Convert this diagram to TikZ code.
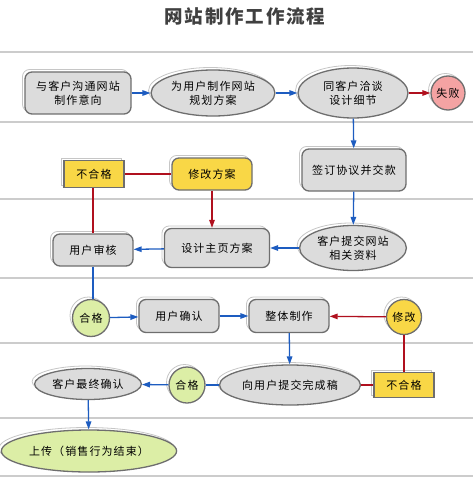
\documentclass[tikz,border=0pt]{standalone}
\usepackage{fontspec}
\newfontfamily\cjk[LetterSpace=10]{Noto Sans CJK SC}
\newfontfamily\cjktitle[LetterSpace=10]{Noto Sans CJK SC}
\usetikzlibrary{shapes.geometric,shadows,arrows.meta}

\definecolor{boxgray}{HTML}{DCDCDC}
\definecolor{edgegray}{HTML}{6E6E6E}
\definecolor{sepgray}{HTML}{CCCCCC}
\definecolor{okgreen}{HTML}{DCEEA6}
\definecolor{warnyellow}{HTML}{F9D746}
\definecolor{failpink}{HTML}{F4A3A3}
\definecolor{flowblue}{HTML}{1D5CC0}
\definecolor{flowred}{HTML}{B0101E}

\begin{document}
\begin{tikzpicture}[x=1pt,y=-1pt,
% Shapes style
    shape3d/.style={draw=edgegray,line width=1.3pt,fill=boxgray,
		align=center,inner sep=2pt,
		copy shadow={shadow xshift=-2.5pt,shadow yshift=2.5pt,
			fill=white,draw=gray!45,line width=0.8pt}},
    box/.style={shape3d,rectangle,rounded corners=7pt},
    oval/.style={shape3d,ellipse},
    dot/.style={shape3d,circle},
    flag/.style={shape3d,rectangle,fill=warnyellow},
% Text style
    every node/.style={font=\cjk\fontsize{11}{14}\selectfont},
    title/.style={font=\cjktitle\bfseries\fontsize{18.5}{22}\selectfont,
		text=black!75},
% Connector style
    go/.style={draw=flowblue,line width=1.3pt,
		-{Triangle[length=8pt,width=5.5pt]}},
    golink/.style={draw=flowblue,line width=1.3pt},
    back/.style={draw=flowred,line width=1.3pt,
		-{Triangle[length=8pt,width=5.5pt]}},
    backlink/.style={draw=flowred,line width=1.3pt},
    sep/.style={draw=sepgray,line width=1.2pt}
    ]
\useasboundingbox (0,0) rectangle (473,484);
%% Title and row separators
    \node (head) [title] at (245,16) {网站制作工作流程};
    \foreach \y in {52,122,199,278,343,418,476}
		\draw [sep] (0,\y) -- (473,\y);
%% Draw steps
    \node (talk) [box,minimum width=106pt,minimum height=42pt]
		at (78,93) {与客户沟通网站\\制作意向};
    \node (plan) [oval,minimum width=108pt,minimum height=46pt]
		at (213,93) {为用户制作网站\\规划方案};
    \node (detail) [oval,minimum width=110pt,minimum height=50pt]
		at (353,93) {同客户洽谈\\设计细节};
    \node (fail) [dot,fill=failpink,minimum size=34pt]
		at (448,93) {失败};
    \node (sign) [box,minimum width=104pt,minimum height=42pt]
		at (354,170) {签订协议并交款};
    \node (nopassa) [flag,minimum width=60pt,minimum height=27pt]
		at (94,174) {不合格};
    \node (revise) [box,fill=warnyellow,minimum width=80pt,
		minimum height=32pt] at (212,174) {修改方案};
    \node (review) [box,minimum width=80pt,minimum height=32pt]
		at (93,250) {用户审核};
    \node (home) [box,minimum width=105pt,minimum height=39pt]
		at (217,248) {设计主页方案};
    \node (data) [oval,minimum width=106pt,minimum height=45pt]
		at (353,248) {客户提交网站\\相关资料};
    \node (passa) [dot,fill=okgreen,minimum size=37pt]
		at (91,318) {合格};
    \node (confirm) [box,minimum width=80pt,minimum height=33pt]
		at (179,316) {用户确认};
    \node (build) [box,minimum width=80pt,minimum height=33pt]
		at (289,316) {整体制作};
    \node (fix) [dot,fill=warnyellow,minimum size=35pt]
		at (404,317) {修改};
    \node (final) [oval,minimum width=97pt,minimum height=31pt]
		at (88,384) {客户最终确认};
    \node (passb) [dot,fill=okgreen,minimum size=36pt]
		at (187,385) {合格};
    \node (submit) [oval,minimum width=115pt,minimum height=40pt]
		at (290,385) {向用户提交完成稿};
    \node (nopassb) [flag,minimum width=60pt,minimum height=25pt]
		at (404,385) {不合格};
    \node (upload) [oval,fill=okgreen,minimum width=137pt,
		minimum height=42pt] at (89,451) {上传（销售行为结束）};
%% Draw connectors
    \draw [go] (talk) -- (plan);
    \draw [go] (plan) -- (detail);
    \draw [back] (detail) -- (fail);
    \draw [go] (detail) -- (sign);
    \draw [go] (sign) -- (data);
    \draw [go] (data) -- (home);
    \draw [go] (home) -- (review);
    \draw [backlink] (nopassa) -- (revise);
    \draw [backlink] (review.north) -- (review.north |- nopassa.south);
    \draw [back] (revise.south) -- (revise.south |- home.north);
    \draw [golink] (review.south) -- (review.south |- passa.north);
    \draw [go] (passa) -- (confirm);
    \draw [go] (confirm) -- (build);
    \draw [back] (fix) -- (build);
    \draw [go] (build) -- (submit);
    \draw [golink] (submit) -- (passb);
    \draw [go] (passb) -- (final);
    \draw [backlink] (submit) -- (nopassb);
    \draw [backlink] (nopassb) -- (fix);
    \draw [go] (final) -- (upload);
\end{tikzpicture}
\end{document}
